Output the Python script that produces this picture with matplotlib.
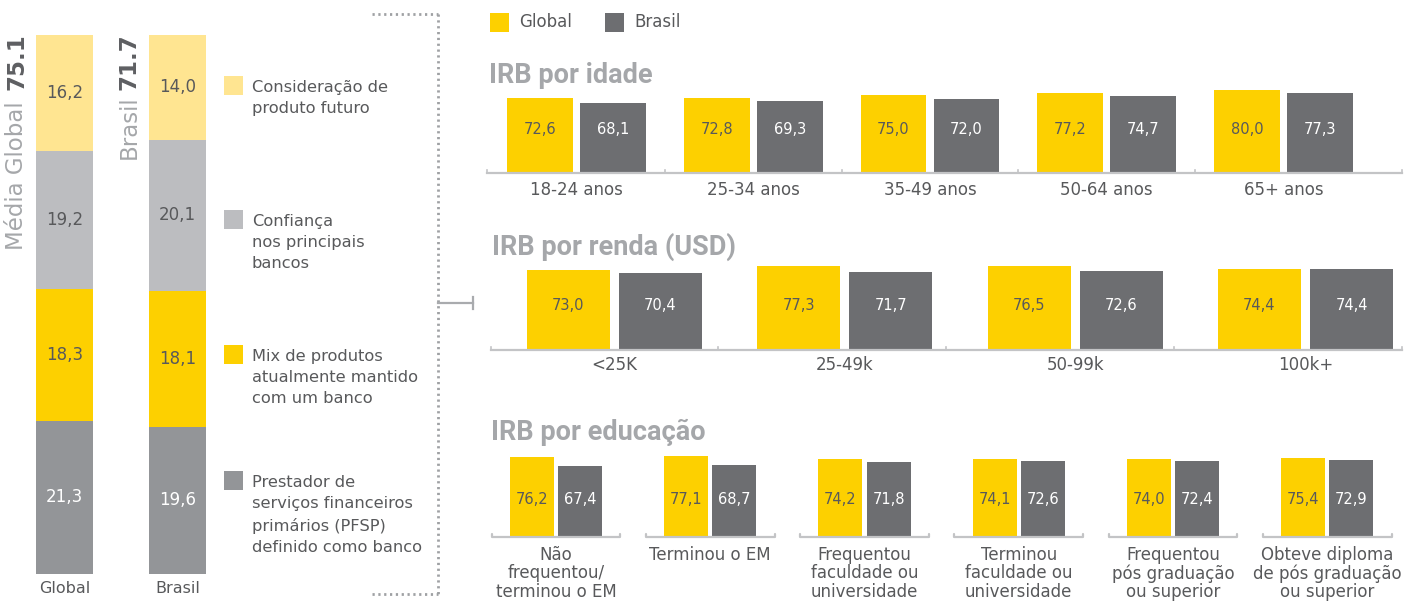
import numpy as np
import matplotlib
matplotlib.use('Agg')
import matplotlib.pyplot as plt
from matplotlib.patches import Rectangle
from matplotlib.lines import Line2D

# ---- data ----
stack_groups = ['Global', 'Brasil']
stack_labels = ['Prestador de\nserviços financeiros\nprimários (PFSP)\ndefinido como banco',
                'Mix de produtos\natualmente mantido\ncom um banco',
                'Confiança\nnos principais\nbancos',
                'Consideração de\nproduto futuro']
stack_global = [21.3, 18.3, 19.2, 16.2]   # bottom -> top
stack_brasil = [19.6, 18.1, 20.1, 14.0]
score_global = '75.1'
score_brasil = '71.7'

age_cats = ['18-24 anos', '25-34 anos', '35-49 anos', '50-64 anos', '65+ anos']
age_global = [72.6, 72.8, 75.0, 77.2, 80.0]
age_brasil = [68.1, 69.3, 72.0, 74.7, 77.3]

inc_cats = ['<25K', '25-49k', '50-99k', '100k+']
inc_global = [73.0, 77.3, 76.5, 74.4]
inc_brasil = [70.4, 71.7, 72.6, 74.4]

edu_cats = ['Não\nfrequentou/\nterminou o EM', 'Terminou o EM',
            'Frequentou\nfaculdade ou\nuniversidade', 'Terminou\nfaculdade ou\nuniversidade',
            'Frequentou\npós graduação\nou superior', 'Obteve diploma\nde pós graduação\nou superior']
edu_global = [76.2, 77.1, 74.2, 74.1, 74.0, 75.4]
edu_brasil = [67.4, 68.7, 71.8, 72.6, 72.4, 72.9]

# ---- style ----
W, H = 1412, 603
yellow = '#FDD000'
dgray = '#6D6E71'
lyellow = '#FFE591'
lgray = '#BCBDC0'
mgray = '#939598'
title_c = '#A5A7AA'
text_c = '#58595B'
axis_c = '#C3C4C6'
seg_colors = [mgray, yellow, lgray, lyellow]
seg_text = ['white', text_c, text_c, text_c]

plt.rcParams['font.family'] = ['DejaVu Sans']

fig = plt.figure(figsize=(W / 100, H / 100), dpi=100)


def px_axes(left, top, right, bottom):
    return fig.add_axes([left / W, 1 - bottom / H, (right - left) / W, (bottom - top) / H])


def fx(x):
    return x / W


def fy(y):
    return 1 - y / H


def fmt(v):
    return ('%.1f' % v).replace('.', ',')


# ---- left stacked bars ----
ax0 = px_axes(36, 34.6, 206, 573.8)
ax0.set_xlim(-0.252, 1.252)
ax0.set_ylim(0, 1)
ax0.axis('off')
for gi, vals in enumerate([stack_global, stack_brasil]):
    fr = np.array(vals) / np.sum(vals)
    bottom = 0
    for k in range(len(vals)):
        ax0.bar(gi, fr[k], 0.504, bottom=bottom, color=seg_colors[k], linewidth=0)
        ax0.text(gi, bottom + fr[k] / 2, fmt(vals[k]), ha='center', va='center',
                 fontsize=12, color=seg_text[k])
        bottom += fr[k]
    ax0.annotate(stack_groups[gi], (gi, 0), xytext=(0, -15), textcoords='offset pixels',
                 ha='center', va='center', fontsize=11.5, color=text_c)

# rotated titles
fig.text(fx(17), fy(33), score_global, rotation=90, ha='center', va='top',
         fontsize=16.5, fontweight='bold', color='#5E5F62')
fig.text(fx(17), fy(101), 'Média Global', rotation=90, ha='center', va='top',
         fontsize=16.5, color=title_c)
fig.text(fx(129), fy(33), score_brasil, rotation=90, ha='center', va='top',
         fontsize=16.5, fontweight='bold', color='#5E5F62')
fig.text(fx(129), fy(95), 'Brasil', rotation=90, ha='center', va='top',
         fontsize=16.5, color=title_c)

# left legend
leg_y = [471, 345, 210, 76]   # square tops, same order as stack_labels
for k, lab in enumerate(stack_labels):
    fig.patches.append(Rectangle((fx(224), fy(leg_y[k] + 19)), 19 / W, 19 / H,
                                 transform=fig.transFigure, color=seg_colors[k], linewidth=0))
    fig.text(fx(252), fy(leg_y[k] + 4), lab, ha='left', va='top', fontsize=11.7,
             color=text_c, linespacing=1.52)

# dotted bracket
dot = dict(color='#9FA1A4', lw=2.0, linestyle=(0, (0.8, 1.3)))
for xs, ys in [([372, 438], [14, 14]), ([438, 438], [14, 594]), ([372, 438], [594, 594])]:
    fig.lines.append(Line2D([fx(x) for x in xs], [fy(y) for y in ys],
                            transform=fig.transFigure, **dot))
fig.lines.append(Line2D([fx(438), fx(473)], [fy(303), fy(303)], transform=fig.transFigure,
                        color='#A9ABAE', lw=1.6))
fig.lines.append(Line2D([fx(473), fx(473)], [fy(297), fy(309)], transform=fig.transFigure,
                        color='#A9ABAE', lw=1.6))

# right legend
fig.patches.append(Rectangle((fx(490), fy(32)), 19 / W, 19 / H, transform=fig.transFigure,
                             color=yellow, linewidth=0))
fig.text(fx(519), fy(22), 'Global', ha='left', va='center', fontsize=12, color=text_c)
fig.patches.append(Rectangle((fx(605), fy(32)), 19 / W, 19 / H, transform=fig.transFigure,
                             color=dgray, linewidth=0))
fig.text(fx(634), fy(22), 'Brasil', ha='left', va='center', fontsize=12, color=text_c)


def grouped(ax, cats, g, b, width, half, val_off, lab_off, lab_va='center'):
    x = np.arange(len(cats))
    ax.bar(x - half, g, width, color=yellow, linewidth=0)
    ax.bar(x + half, b, width, color=dgray, linewidth=0)
    for i in range(len(cats)):
        ax.annotate(fmt(g[i]), (x[i] - half, 0), xytext=(0, val_off), textcoords='offset pixels',
                    ha='center', va='center', fontsize=10.5, color=text_c)
        ax.annotate(fmt(b[i]), (x[i] + half, 0), xytext=(0, val_off), textcoords='offset pixels',
                    ha='center', va='center', fontsize=10.5, color='white')
        ax.annotate(cats[i], (x[i], 0), xytext=(0, lab_off), textcoords='offset pixels',
                    ha='center', va=lab_va, fontsize=12, color=text_c, linespacing=1.02,
                    annotation_clip=False)
    for s in ['top', 'right', 'left']:
        ax.spines[s].set_visible(False)
    ax.set_yticks([])
    ax.set_xticks([])
    ax.patch.set_alpha(0)


# panel 1: idade
ax1 = px_axes(487, 80, 1402, 173)
ax1.set_xlim(-0.506, 4.670)
ax1.set_ylim(0, 93 / 1.034)
grouped(ax1, age_cats, age_global, age_brasil, 0.373, 0.2065, 43, -17)
fig.text(fx(489), fy(83), 'IRB por idade', family='Roboto', fontweight='bold',
         fontsize=19.5, color=title_c, va='baseline')

# panel 2: renda
ax2 = px_axes(491, 258, 1402, 350)
ax2.set_xlim(-0.536, 3.419)
ax2.set_ylim(0, 92 / 1.092)
grouped(ax2, inc_cats, inc_global, inc_brasil, 0.36, 0.2, 44, -15)
fig.text(fx(492), fy(255), 'IRB por renda (USD)', family='Roboto', fontweight='bold',
         fontsize=19.5, color=title_c, va='baseline')

# panel 3: educacao
ax3 = px_axes(491, 445, 1392, 537)
ax3.set_xlim(-0.4215, 5.42)
ax3.set_ylim(0, 92 / 1.05)
grouped(ax3, edu_cats, edu_global, edu_brasil, 0.285, 0.156, 38, -9, lab_va='top')
fig.text(fx(491), fy(440), 'IRB por educação', family='Roboto', fontweight='bold',
         fontsize=19.5, color=title_c, va='baseline')

# axis lines
for ax, ticks in [(ax1, [-0.506, 0.5, 1.5, 2.5, 3.5, 4.670]), (ax2, [-0.536, 0.45, 1.44, 2.43, 3.419])]:
    ax.spines['bottom'].set_color(axis_c)
    ax.spines['bottom'].set_linewidth(1.6)
    for t in ticks:
        ax.plot([t, t], [0, 3 / 1.05], color=axis_c, lw=1.2, clip_on=False)
ax3.spines['bottom'].set_visible(False)
for i in range(len(edu_cats)):
    ax3.plot([i - 0.418, i - 0.418, i + 0.418, i + 0.418], [3 / 1.05, 0, 0, 3 / 1.05],
             color=axis_c, lw=1.6, solid_joinstyle='round', solid_capstyle='round', clip_on=False)

fig.savefig('out.png', dpi=100)
